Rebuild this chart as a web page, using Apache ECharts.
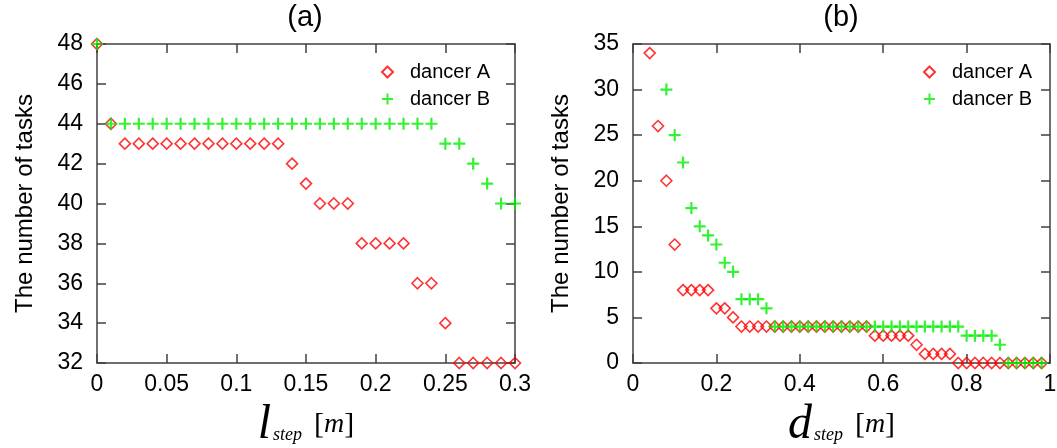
<!DOCTYPE html>
<html>
<head>
<meta charset="utf-8">
<script src="https://cdn.jsdelivr.net/npm/echarts@6/dist/echarts.min.js"></script>
<style>
html,body{margin:0;padding:0;background:#fff;}
#chart{width:1057px;height:448px;}
</style>
</head>
<body>
<div id="chart"></div>
<script>
// ---------- data ----------
const leftX = [0,0.01,0.02,0.03,0.04,0.05,0.06,0.07,0.08,0.09,0.10,0.11,0.12,0.13,0.14,0.15,0.16,0.17,0.18,0.19,0.20,0.21,0.22,0.23,0.24,0.25,0.26,0.27,0.28,0.29,0.30];
const leftDancerA = [48,44,43,43,43,43,43,43,43,43,43,43,43,43,42,41,40,40,40,38,38,38,38,36,36,34,32,32,32,32,32];
const leftDancerB = [48,44,44,44,44,44,44,44,44,44,44,44,44,44,44,44,44,44,44,44,44,44,44,44,44,43,43,42,41,40,40];

const rightX = [0.04,0.06,0.08,0.10,0.12,0.14,0.16,0.18,0.20,0.22,0.24,0.26,0.28,0.30,0.32,0.34,0.36,0.38,0.40,0.42,0.44,0.46,0.48,0.50,0.52,0.54,0.56,0.58,0.60,0.62,0.64,0.66,0.68,0.70,0.72,0.74,0.76,0.78,0.80,0.82,0.84,0.86,0.88,0.90,0.92,0.94,0.96,0.98];
const rightDancerA = [34,26,20,13,8,8,8,8,6,6,5,4,4,4,4,4,4,4,4,4,4,4,4,4,4,4,4,3,3,3,3,3,2,1,1,1,1,0,0,0,0,0,0,0,0,0,0,0];
const rightDancerB = [null,null,30,25,22,17,15,14,13,11,10,7,7,7,6,4,4,4,4,4,4,4,4,4,4,4,4,4,4,4,4,4,4,4,4,4,4,4,3,3,3,3,2,0,0,0,0,0];

const leftXTicks = {min:0, max:0.3, interval:0.05};
const leftYTicks = {min:32, max:48, interval:2};
const rightXTicks = {min:0, max:1, interval:0.2};
const rightYTicks = {min:0, max:35, interval:5};

const seriesNames = ['dancer A','dancer B'];
const panelTitles = ['(a)','(b)'];
const yAxisName = 'The number of tasks';

// ---------- helpers ----------
function pairs(xs, ys){
  const out = [];
  for (let i = 0; i < xs.length; i++) if (ys[i] !== null) out.push([xs[i], ys[i]]);
  return out;
}
const FONT = 'Liberation Sans, Arial, sans-serif';
const SERIF = 'Liberation Serif, Times New Roman, serif';
const AXC = '#404040';
const RED = '#ff0000';
const GREEN = '#00ee00';
const PLUS = 'path://M4.5,0H6.5V4.5H11V6.5H6.5V11H4.5V6.5H0V4.5H4.5Z';

function mainX(idx, t, letter){
  return {
    gridIndex: idx, type:'value', min:t.min, max:t.max, interval:t.interval,
    axisLine:{show:true, onZero:false, lineStyle:{color:AXC, width:1.5}},
    axisTick:{show:true, inside:true, length:9, lineStyle:{color:AXC, width:1.5}},
    axisLabel:{color:'#000', fontFamily:FONT, fontSize:23, margin:10},
    splitLine:{show:false},
    name: '{l|' + letter + '}{s|step}{b|[}{m|m}{b|]}',
    nameLocation:'middle', nameGap:30,
    nameTextStyle:{
      rich:{
        l:{fontFamily:SERIF, fontStyle:'italic', fontSize:48, color:'#000', verticalAlign:'bottom'},
        s:{fontFamily:SERIF, fontStyle:'italic', fontSize:18, color:'#000', padding:[20,12,0,2]},
        b:{fontFamily:SERIF, fontSize:30, color:'#000'},
        m:{fontFamily:SERIF, fontStyle:'italic', fontSize:28, color:'#000'}
      }
    }
  };
}
function mirrorX(idx, t){
  return {
    gridIndex: idx, type:'value', position:'top', min:t.min, max:t.max, interval:t.interval,
    axisLine:{show:true, onZero:false, lineStyle:{color:AXC, width:1.5}},
    axisTick:{show:true, inside:true, length:9, lineStyle:{color:AXC, width:1.5}},
    axisLabel:{show:false}, splitLine:{show:false}
  };
}
function mainY(idx, t){
  return {
    gridIndex: idx, type:'value', min:t.min, max:t.max, interval:t.interval,
    axisLine:{show:true, onZero:false, lineStyle:{color:AXC, width:1.5}},
    axisTick:{show:true, inside:true, length:9, lineStyle:{color:AXC, width:1.5}},
    axisLabel:{color:'#000', fontFamily:FONT, fontSize:23, margin:14},
    splitLine:{show:false},
    name: yAxisName, nameLocation:'middle', nameGap:60, nameRotate:90,
    nameTextStyle:{color:'#000', fontFamily:FONT, fontSize:24}
  };
}
function mirrorY(idx, t){
  return {
    gridIndex: idx, type:'value', position:'right', min:t.min, max:t.max, interval:t.interval,
    axisLine:{show:true, onZero:false, lineStyle:{color:AXC, width:1.5}},
    axisTick:{show:true, inside:true, length:9, lineStyle:{color:AXC, width:1.5}},
    axisLabel:{show:false}, splitLine:{show:false}
  };
}
function seriesA(xIdx, yIdx, data){
  return {
    name: seriesNames[0], type:'scatter', xAxisIndex:xIdx, yAxisIndex:yIdx, data:data,
    symbol:'diamond', symbolSize:[11,11], clip:false, z:2,
    itemStyle:{color:'rgba(255,255,255,0)', borderColor:RED, borderWidth:1.6}
  };
}
function seriesB(xIdx, yIdx, data){
  return {
    name: seriesNames[1], type:'scatter', xAxisIndex:xIdx, yAxisIndex:yIdx, data:data,
    symbol:PLUS, symbolSize:[12,12], clip:false, z:3,
    itemStyle:{color:GREEN}
  };
}
function legendAt(left, top){
  return {
    orient:'vertical', left:left, top:top, itemWidth:11, itemHeight:11, itemGap:7,
    data: seriesNames,
    textStyle:{color:'#000', fontFamily:FONT, fontSize:20, padding:[0,0,0,12]},
    selectedMode:false
  };
}

const chart = echarts.init(document.getElementById('chart'), null, {renderer:'canvas'});
chart.setOption({
  backgroundColor:'#fff',
  animation:false,
  grid:[
    {left:97, top:44, width:418, height:319, containLabel:false, outerBoundsMode:'none'},
    {left:633, top:44, width:417, height:319, containLabel:false, outerBoundsMode:'none'}
  ],
  xAxis:[mainX(0, leftXTicks, 'l'), mirrorX(0, leftXTicks), mainX(1, rightXTicks, 'd'), mirrorX(1, rightXTicks)],
  yAxis:[mainY(0, leftYTicks), mirrorY(0, leftYTicks), mainY(1, rightYTicks), mirrorY(1, rightYTicks)],
  legend:[legendAt(376, 57), legendAt(918, 57)],
  graphic:[
    {type:'text', x:305, y:3, style:{text:panelTitles[0], fontFamily:FONT, fontSize:29, fill:'#000', align:'center'}},
    {type:'text', x:841, y:3, style:{text:panelTitles[1], fontFamily:FONT, fontSize:29, fill:'#000', align:'center'}}
  ],
  series:[
    seriesA(0, 0, pairs(leftX, leftDancerA)),
    seriesB(0, 0, pairs(leftX, leftDancerB)),
    seriesA(2, 2, pairs(rightX, rightDancerA)),
    seriesB(2, 2, pairs(rightX, rightDancerB))
  ]
});
</script>
</body>
</html>
